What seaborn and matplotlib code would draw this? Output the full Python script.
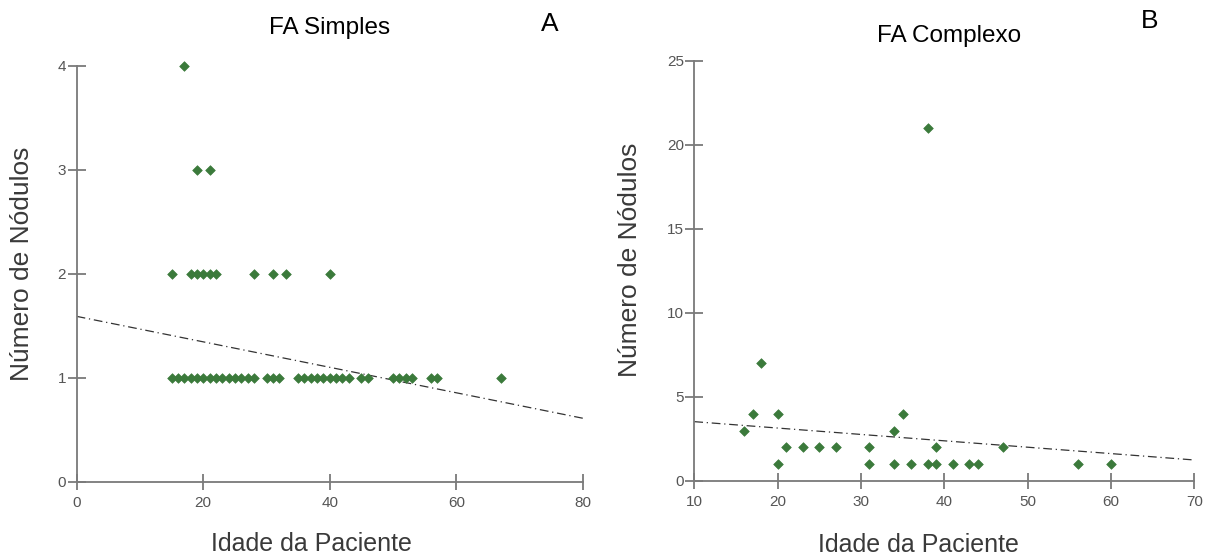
import numpy as np
import pandas as pd
import matplotlib
matplotlib.use('Agg')
import matplotlib.pyplot as plt
import seaborn as sns

# painel A - FA Simples
idade_simples = [15, 16, 17, 18, 19, 20, 21, 22, 23, 24, 25, 26, 27, 28,
                 30, 31, 32, 35, 36, 37, 38, 39, 40, 41, 42, 43,
                 45, 46, 50, 51, 52, 53, 56, 57, 67,
                 15, 18, 19, 20, 21, 22, 28, 31, 33, 40,
                 19, 21,
                 17]
nodulos_simples = [1] * 35 + [2] * 10 + [3] * 2 + [4]
# reta de tendencia (extremos do eixo x)
tend_x_simples = [0, 80]
tend_y_simples = [1.59, 0.61]

# painel B - FA Complexo
idade_complexo = [16, 17, 18, 20, 20, 21, 23, 25, 27, 31, 31, 34, 34, 35,
                  36, 38, 38, 39, 39, 41, 43, 44, 47, 56, 60]
nodulos_complexo = [3, 4, 7, 4, 1, 2, 2, 2, 2, 2, 1, 3, 1, 4,
                    1, 1, 21, 2, 1, 1, 1, 1, 2, 1, 1]
tend_x_complexo = [10, 70]
tend_y_complexo = [3.53, 1.25]

df_a = pd.DataFrame({'idade': idade_simples, 'nodulos': nodulos_simples})
df_b = pd.DataFrame({'idade': idade_complexo, 'nodulos': nodulos_complexo})

sns.set_style('white')
plt.rcParams['font.family'] = ['Liberation Sans', 'DejaVu Sans']

verde = '#3b7a3b'
cinza = '#7a7a7a'

fig = plt.figure(figsize=(12.11, 5.56), dpi=100)
ax1 = fig.add_axes([0.0633, 0.1336, 0.4181, 0.7482])
ax2 = fig.add_axes([0.5733, 0.1349, 0.4129, 0.7559])

configs = [
    (ax1, df_a, tend_x_simples, tend_y_simples, (0, 80), (0, 4),
     [0, 20, 40, 60, 80], [0, 1, 2, 3, 4], (-0.084, 0.523), (0.463, -0.121)),
    (ax2, df_b, tend_x_complexo, tend_y_complexo, (10, 70), (0, 25),
     [10, 20, 30, 40, 50, 60, 70], [0, 5, 10, 15, 20, 25], (-0.104, 0.526), (0.449, -0.124)),
]

for ax, df, tx, ty, xlim, ylim, xt, yt, ylab_pos, xlab_pos in configs:
    sns.lineplot(x=tx, y=ty, ax=ax, color='#333333', lw=0.9,
                 linestyle=(0, (7, 3, 1, 3)))
    sns.scatterplot(data=df, x='idade', y='nodulos', ax=ax, marker='D', s=24,
                    color=verde, edgecolor=verde, linewidth=0.5, zorder=3,
                    clip_on=False)
    ax.set_xlim(*xlim)
    ax.set_ylim(*ylim)
    ax.set_xticks(xt)
    ax.set_yticks(yt)
    for s in ['top', 'right']:
        ax.spines[s].set_visible(False)
    for s in ['left', 'bottom']:
        ax.spines[s].set_color(cinza)
        ax.spines[s].set_linewidth(1.3)
    ax.tick_params(axis='y', direction='inout', length=13, width=1.3, color=cinza,
                   labelsize=11, labelcolor='#555555', pad=1, left=True)
    ax.tick_params(axis='x', direction='inout', length=12, width=1.3, color=cinza,
                   labelsize=11, labelcolor='#555555', pad=4, bottom=True)
    ax.set_ylabel('Número de Nódulos', fontsize=19, color='#3a3a3a')
    ax.set_xlabel('Idade da Paciente', fontsize=18, color='#3a3a3a')
    ax.yaxis.set_label_coords(*ylab_pos)
    ax.xaxis.set_label_coords(*xlab_pos)

fig.text(0.2725, 0.9496, 'FA Simples', fontsize=17.5, ha='center', va='center', color='black')
fig.text(0.7837, 0.935, 'FA Complexo', fontsize=17.5, ha='center', va='center', color='black')
fig.text(0.454, 0.957, 'A', fontsize=19, ha='center', va='center', color='black')
fig.text(0.9496, 0.962, 'B', fontsize=19, ha='center', va='center', color='black')

fig.savefig('out.png', dpi=100)
